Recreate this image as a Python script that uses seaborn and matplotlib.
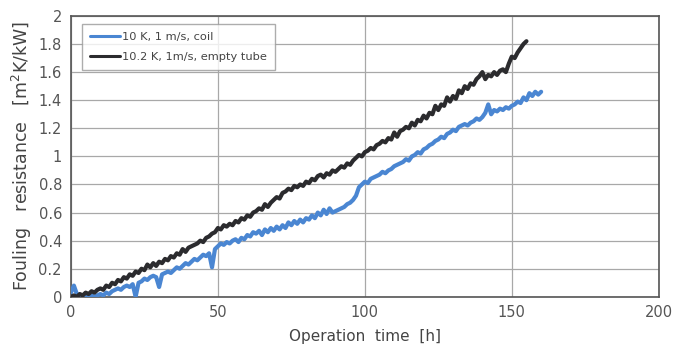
import matplotlib
matplotlib.use("Agg")
import matplotlib.pyplot as plt
import seaborn as sns
import pandas as pd

# ---- data ----
series_names = ["10 K, 1 m/s, coil", "10.2 K, 1m/s, empty tube"]

time_black = list(range(0, 156))
res_black = [
    0.00, 0.01, 0.00, 0.02, 0.01, 0.03, 0.02, 0.04, 0.03, 0.05,
    0.06, 0.05, 0.08, 0.07, 0.10, 0.09, 0.12, 0.11, 0.14, 0.13,
    0.16, 0.15, 0.18, 0.17, 0.20, 0.19, 0.23, 0.21, 0.24, 0.22,
    0.25, 0.24, 0.27, 0.26, 0.29, 0.28, 0.31, 0.30, 0.34, 0.32,
    0.35, 0.36, 0.37, 0.38, 0.40, 0.39, 0.42, 0.43, 0.45, 0.46,
    0.49, 0.48, 0.51, 0.50, 0.52, 0.51, 0.54, 0.53, 0.56, 0.55,
    0.58, 0.57, 0.60, 0.61, 0.63, 0.62, 0.66, 0.64, 0.67, 0.69,
    0.71, 0.70, 0.74, 0.75, 0.77, 0.76, 0.79, 0.78, 0.80, 0.79,
    0.82, 0.81, 0.84, 0.83, 0.86, 0.87, 0.85, 0.88, 0.87, 0.90,
    0.89, 0.91, 0.93, 0.92, 0.95, 0.94, 0.97, 0.99, 1.01, 1.00,
    1.03, 1.04, 1.06, 1.05, 1.08, 1.09, 1.11, 1.10, 1.13, 1.12,
    1.17, 1.14, 1.18, 1.19, 1.21, 1.20, 1.24, 1.22, 1.26, 1.25,
    1.29, 1.27, 1.31, 1.30, 1.36, 1.33, 1.37, 1.36, 1.42, 1.39,
    1.43, 1.41, 1.47, 1.45, 1.50, 1.48, 1.52, 1.51, 1.55, 1.57,
    1.60, 1.55, 1.58, 1.57, 1.60, 1.58, 1.61, 1.62, 1.60, 1.66,
    1.71, 1.70, 1.74, 1.77, 1.80, 1.82,
]

time_blue = list(range(0, 161))
res_blue = [
    0.03, 0.08, 0.02, 0.01, 0.00, 0.02, 0.00, 0.01, 0.00, 0.01,
    0.02, 0.01, 0.03, 0.02, 0.04, 0.05, 0.06, 0.05, 0.07, 0.08,
    0.07, 0.09, 0.00, 0.10, 0.11, 0.13, 0.12, 0.14, 0.15, 0.14,
    0.07, 0.16, 0.17, 0.18, 0.17, 0.19, 0.21, 0.20, 0.22, 0.24,
    0.23, 0.25, 0.27, 0.26, 0.28, 0.30, 0.29, 0.31, 0.21, 0.34,
    0.36, 0.38, 0.37, 0.39, 0.38, 0.40, 0.41, 0.39, 0.42, 0.41,
    0.44, 0.43, 0.46, 0.45, 0.47, 0.44, 0.48, 0.46, 0.49, 0.47,
    0.50, 0.48, 0.51, 0.49, 0.53, 0.51, 0.54, 0.52, 0.55, 0.53,
    0.56, 0.55, 0.58, 0.56, 0.60, 0.58, 0.62, 0.59, 0.63, 0.60,
    0.61, 0.62, 0.63, 0.64, 0.66, 0.67, 0.69, 0.72, 0.78, 0.80,
    0.82, 0.81, 0.84, 0.85, 0.86, 0.87, 0.89, 0.88, 0.90, 0.91,
    0.93, 0.94, 0.95, 0.96, 0.98, 0.97, 1.00, 1.01, 1.03, 1.02,
    1.05, 1.06, 1.08, 1.09, 1.11, 1.12, 1.14, 1.13, 1.16, 1.17,
    1.19, 1.18, 1.21, 1.22, 1.23, 1.22, 1.24, 1.25, 1.27, 1.26,
    1.28, 1.31, 1.37, 1.30, 1.33, 1.32, 1.34, 1.33, 1.35, 1.34,
    1.36, 1.37, 1.39, 1.38, 1.42, 1.40, 1.45, 1.43, 1.46, 1.44,
    1.46,
]

x_ticks = [0, 50, 100, 150, 200]
y_ticks = [0, 0.2, 0.4, 0.6, 0.8, 1, 1.2, 1.4, 1.6, 1.8, 2]
y_tick_labels = ["0", "0.2", "0.4", "0.6", "0.8", "1", "1.2", "1.4", "1.6", "1.8", "2"]

df = pd.concat([
    pd.DataFrame({"time": time_blue, "res": res_blue, "series": series_names[0]}),
    pd.DataFrame({"time": time_black, "res": res_black, "series": series_names[1]}),
])

# ---- plot ----
sns.set_style("white")
plt.rcParams["font.family"] = ["DejaVu Sans"]

fig = plt.figure(figsize=(6.89, 3.62), dpi=100)
ax = fig.add_axes([0.103, 0.18, 0.853, 0.776])

palette = {series_names[0]: "#4a86d2", series_names[1]: "#2b2b2e"}
sns.lineplot(data=df, x="time", y="res", hue="series", palette=palette,
             linewidth=3.0, ax=ax, estimator=None, sort=False, zorder=3)

ax.set_xlim(0, 200)
ax.set_ylim(0, 2)
ax.set_xticks(x_ticks)
ax.set_yticks(y_ticks)
ax.set_yticklabels(y_tick_labels)
ax.grid(True, color="#a8a8a8", linewidth=0.9, zorder=0)
for sp in ax.spines.values():
    sp.set_color("#555555")
    sp.set_linewidth(1.2)
ax.tick_params(axis="both", colors="#555555", labelcolor="#555555", labelsize=10.5,
               direction="inout", length=6, width=0.9)
ax.tick_params(axis="x", length=0, pad=6)

ax.set_xlabel("Operation  time  [h]", fontsize=11, color="#444444", labelpad=6)
ax.set_ylabel("Fouling   resistance   [m$^2$K/kW]", fontsize=12.5, color="#444444", labelpad=3)

leg = ax.legend(loc="upper left", bbox_to_anchor=(0.019, 0.972), fontsize=8.2,
                frameon=True, fancybox=False, handlelength=2.6, handletextpad=0.2,
                borderpad=0.7, labelspacing=0.9, borderaxespad=0)
leg.get_frame().set_edgecolor("#999999")
leg.get_frame().set_linewidth(1.0)
for t in leg.get_texts():
    t.set_color("#444444")
for l in leg.get_lines():
    l.set_linewidth(2.2)
leg.set_zorder(5)

fig.savefig("out.png", dpi=100, facecolor="white")
